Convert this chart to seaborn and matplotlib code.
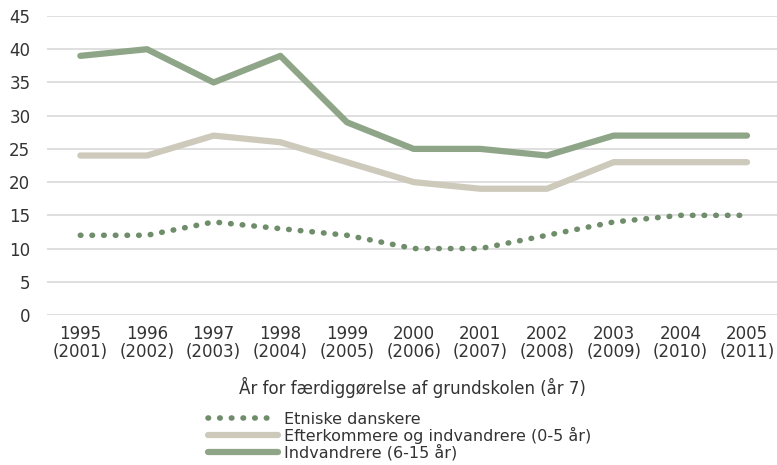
import matplotlib
matplotlib.use("Agg")
import matplotlib.pyplot as plt
import numpy as np
import pandas as pd
import seaborn as sns

years = ["1995\n(2001)", "1996\n(2002)", "1997\n(2003)", "1998\n(2004)", "1999\n(2005)",
         "2000\n(2006)", "2001\n(2007)", "2002\n(2008)", "2003\n(2009)", "2004\n(2010)",
         "2005\n(2011)"]
etniske = [12, 12, 14, 13, 12, 10, 10, 12, 14, 15, 15]
efterkommere = [24, 24, 27, 26, 23, 20, 19, 19, 23, 23, 23]
indvandrere = [39, 40, 35, 39, 29, 25, 25, 24, 27, 27, 27]

labels = ["Etniske danskere", "Efterkommere og indvandrere (0-5 år)", "Indvandrere (6-15 år)"]
colors = ["#6f8d6b", "#cdc9bb", "#8fa588"]

df = pd.DataFrame({"x": np.arange(len(years)), labels[0]: etniske,
                   labels[1]: efterkommere, labels[2]: indvandrere})
long = df.melt(id_vars="x", var_name="serie", value_name="v")

sns.set_style("white")
plt.rcParams['font.family'] = ['DejaVu Sans']
plt.rcParams['text.color'] = '#333333'

fig = plt.figure(figsize=(7.77, 4.65), dpi=100)
ax = fig.add_axes([47 / 777, 1 - 315 / 465, 1 - 47 / 777, (315 - 16) / 465])

sns.lineplot(data=long, x="x", y="v", hue="serie", hue_order=labels, palette=colors,
             ax=ax, legend=False, linewidth=4.5)
lines = ax.get_lines()
lines[0].set_linestyle((0, (0.1, 2.0)))
lines[0].set_dash_capstyle("round")
lines[0].set_linewidth(4)
lines[0].set_zorder(3)

ax.set_ylim(0, 45)
ax.set_yticks(range(0, 46, 5))
ax.set_xlim(-0.5, 10.45)
ax.set_xticks(range(len(years)))
ax.set_xticklabels(years, linespacing=1.05)
ax.grid(axis="y", color="#d9d9d9", linewidth=1.2)
ax.set_axisbelow(True)
for s in ax.spines.values():
    s.set_visible(False)
ax.tick_params(axis="both", length=0, labelsize=12, colors="#333333", pad=7)
ax.tick_params(axis="y", pad=12)
ax.set_xlabel("År for færdiggørelse af grundskolen (år 7)", fontsize=12, color="#333333",
              labelpad=11)
ax.set_ylabel("")

handles = [plt.Line2D([], [], color=colors[0], linewidth=4, linestyle=(0, (0.1, 2.0)),
                      dash_capstyle="round"),
           plt.Line2D([], [], color=colors[1], linewidth=4.5, solid_capstyle="round"),
           plt.Line2D([], [], color=colors[2], linewidth=4.5, solid_capstyle="round")]
fig.legend(handles, labels, loc="upper left", bbox_to_anchor=(200 / 777, 1 - 404 / 465),
           frameon=False, fontsize=11.5, handlelength=4.4, handletextpad=0.37,
           labelspacing=0.0, borderpad=0)

fig.savefig("out.png", dpi=100)
